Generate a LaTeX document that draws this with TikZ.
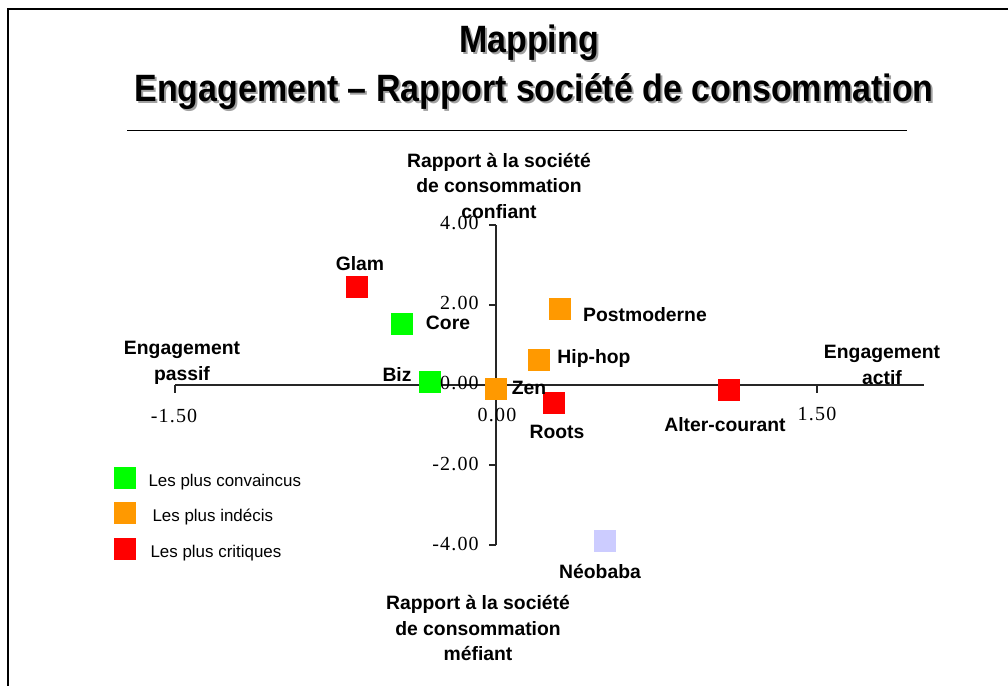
\documentclass[tikz,border=0pt]{standalone}
\usepackage{fontspec}
\setmainfont{Liberation Sans}
\newfontfamily\tickfont{Liberation Serif}[LetterSpace=6]
\usetikzlibrary{positioning}
\definecolor{Convaincu}{HTML}{00FF00}
\definecolor{Indecis}{HTML}{FF9900}
\definecolor{Critique}{HTML}{FF0000}
\definecolor{Lavande}{HTML}{CCCCFF}
\definecolor{Ombre}{HTML}{A0A0A0}
\newcommand{\tallish}[1]{\scalebox{1}[1.12]{#1}}
\tikzset{marker/.style={draw=none,minimum size=16.5pt,inner sep=0pt},
  grplabel/.style={font=\fontsize{14.5}{19}\selectfont\bfseries,inner sep=0pt},
  axlabel/.style={grplabel,align=center},
  ticklabel/.style={font=\tickfont\fontsize{15}{17}\selectfont,inner sep=0pt},
  legtext/.style={font=\fontsize{12.7}{14}\selectfont,inner sep=0pt},
  titletext/.style={font=\fontsize{25.5}{30}\selectfont\bfseries,inner sep=0pt},
  axisline/.style={line width=0.8pt,draw=black!85}}

\begin{document}
\begin{tikzpicture}[x=0.75pt,y=-0.75pt]
    \useasboundingbox (0,0) rectangle (1008,686);
    % frame and title
    \coordinate (fbl) at (8,686);
    \coordinate (ftl) at (8,9);
    \coordinate (ftr) at (1008,9);
    \draw[line width=1.5pt] (fbl) -- (ftl) -- (ftr);
    \node[titletext,text=Ombre] (mapshadow) at (531,45) {\tallish{Mapping}};
    \node[titletext] (mapping) at (529,43) {\tallish{Mapping}};
    \node[titletext,text=Ombre] (subshadow) at (536,94)
      {\tallish{Engagement -- Rapport société de consommation}};
    \node[titletext] (subtitle) at (534,92)
      {\tallish{Engagement -- Rapport société de consommation}};
    \coordinate (rulel) at (127,130);
    \coordinate (ruler) at (907,130);
    \draw[line width=0.6pt] (rulel) -- (ruler);
    % axes
    \begin{scope}[shift={(496,385)},x=160.5pt,y=30pt]
      \coordinate (xl) at (-1.5,0);
      \coordinate (xr) at (2.0,0);
      \coordinate (yt) at (0,4);
      \coordinate (yb) at (0,-4);
      \draw[axisline] (xl) -- (xr);
      \draw[axisline] (yt) -- (yb);
      \foreach \v in {-1.5,1.5}
        \draw[axisline] (\v,0) -- ++(0,-6pt);
      \foreach \v in {4,2,-2,-4}
        \draw[axisline] (0,\v) -- ++(-5pt,0);
      % groups
      \node[marker,fill=Critique] (glam) at (-0.65,2.45) {};
      \node[marker,fill=Convaincu] (core) at (-0.44,1.52) {};
      \node[marker,fill=Convaincu] (biz) at (-0.31,0.08) {};
      \node[marker,fill=Indecis] (zen) at (0,-0.1) {};
      \node[marker,fill=Critique] (roots) at (0.27,-0.46) {};
      \node[marker,fill=Indecis] (hiphop) at (0.20,0.63) {};
      \node[marker,fill=Indecis] (postmod) at (0.30,1.89) {};
      \node[marker,fill=Critique] (alter) at (1.09,-0.12) {};
      \node[marker,fill=Lavande] (neobaba) at (0.51,-3.9) {};
    \end{scope}
    % tick labels
    \node[ticklabel] (tx1) at (174,416) {-1.50};
    \node[ticklabel] (tx2) at (497,415) {0.00};
    \node[ticklabel] (tx3) at (817,414) {1.50};
    \node[ticklabel,anchor=east] (ty1) at (479,223) {4.00};
    \node[ticklabel,anchor=east] (ty2) at (479,303) {2.00};
    \node[ticklabel,anchor=east] (ty3) at (479,383) {0.00};
    \node[ticklabel,anchor=east] (ty4) at (479,464) {-2.00};
    \node[ticklabel,anchor=east] (ty5) at (479,544) {-4.00};
    % group labels
    \node[grplabel] (lglam) at (360,264) {Glam};
    \node[grplabel] (lcore) at (448,323) {Core};
    \node[grplabel] (lbiz) at (397,374) {Biz};
    \node[grplabel] (lzen) at (529,388) {Zen};
    \node[grplabel] (lroots) at (557,432) {Roots};
    \node[grplabel] (lhiphop) at (594,358) {Hip-hop};
    \node[grplabel] (lpostmod) at (645,315) {Postmoderne};
    \node[grplabel] (lalter) at (725,425) {Alter-courant};
    \node[grplabel] (lneobaba) at (600,571) {Néobaba};
    % axis titles
    \node[axlabel] (ytop) at (499,186)
      {Rapport à la société\\de consommation\\confiant};
    \node[axlabel] (ybottom) at (478,628)
      {Rapport à la société\\de consommation\\méfiant};
    \node[axlabel] (xleft) at (182,363) {Engagement\\passif};
    \node[axlabel] (xright) at (882,365) {Engagement\\actif};
    % legend
    \node[marker,fill=Convaincu] (leg1) at (125,478) {};
    \node[marker,fill=Indecis] (leg2) at (125,513) {};
    \node[marker,fill=Critique] (leg3) at (125,549) {};
    \node[legtext,right=9pt of leg1,yshift=-3pt] (leg1t) {Les plus convaincus};
    \node[legtext,right=12pt of leg2,yshift=-3pt] (leg2t) {Les plus indécis};
    \node[legtext,right=10.5pt of leg3,yshift=-3pt] (leg3t) {Les plus critiques};
  \end{tikzpicture}
\end{document}
